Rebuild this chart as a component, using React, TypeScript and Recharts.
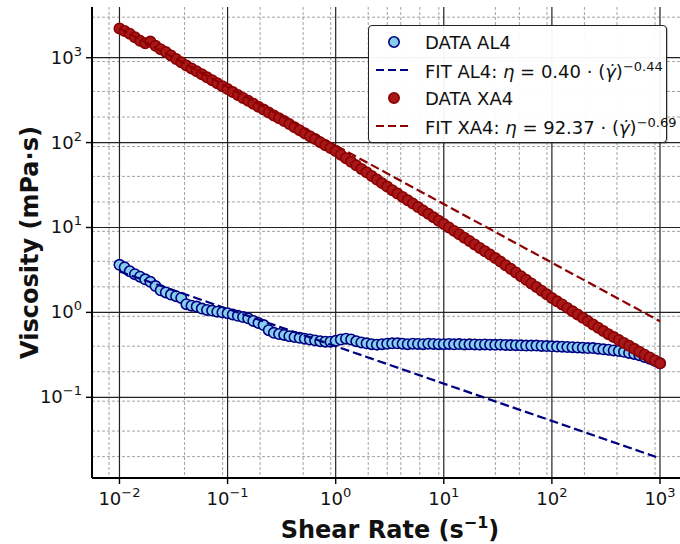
import React from 'react';
import { ScatterChart, Scatter, XAxis, YAxis, CartesianGrid } from 'recharts';

// shear rate (1/s), shared by both samples
const shearRate = [
  0.01, 0.01116, 0.01245, 0.0139, 0.01551, 0.0173, 0.01931, 0.02154, 0.02404, 0.02683, 0.02994, 0.0334, 0.03728, 0.0416, 0.04642, 0.05179, 0.0578, 0.06449, 0.07197, 0.08031, 0.08962,
  0.1, 0.1116, 0.1245, 0.139, 0.1551, 0.173, 0.1931, 0.2154, 0.2404, 0.2683, 0.2994, 0.334, 0.3728, 0.416, 0.4642, 0.5179, 0.578, 0.6449, 0.7197, 0.8031, 0.8962,
  1, 1.116, 1.245, 1.39, 1.551, 1.73, 1.931, 2.154, 2.404, 2.683, 2.994, 3.34, 3.728, 4.16, 4.642, 5.179, 5.78, 6.449, 7.197, 8.031, 8.962,
  10, 11.16, 12.45, 13.9, 15.51, 17.3, 19.31, 21.54, 24.04, 26.83, 29.94, 33.4, 37.28, 41.6, 46.42, 51.79, 57.8, 64.49, 71.97, 80.31, 89.62,
  100, 111.6, 124.5, 139, 155.1, 173, 193.1, 215.4, 240.4, 268.3, 299.4, 334, 372.8, 416, 464.2, 517.9, 578, 644.9, 719.7, 803.1, 896.2,
  1000,
];

// viscosity (mPa·s)
const viscosityAL4 = [
  3.63, 3.39, 3.05, 2.82, 2.63, 2.45, 2.29, 2.04, 1.82, 1.72, 1.62, 1.55, 1.48, 1.25, 1.2, 1.17, 1.11, 1.07, 1.05, 1.02, 1.0,
  0.977, 0.944, 0.912, 0.881, 0.851, 0.794, 0.75, 0.708, 0.617, 0.575, 0.556, 0.543, 0.525, 0.513, 0.501, 0.49, 0.479, 0.468, 0.457, 0.452, 0.452,
  0.462, 0.479, 0.49, 0.479, 0.457, 0.442, 0.432, 0.422, 0.417, 0.422, 0.427, 0.432, 0.432, 0.427, 0.422, 0.427, 0.425, 0.422, 0.427, 0.425, 0.422,
  0.422, 0.425, 0.421, 0.423, 0.419, 0.421, 0.419, 0.417, 0.419, 0.417, 0.415, 0.417, 0.414, 0.412, 0.411, 0.409, 0.407, 0.407, 0.406, 0.403, 0.401,
  0.398, 0.396, 0.394, 0.391, 0.389, 0.386, 0.384, 0.38, 0.38, 0.373, 0.367, 0.363, 0.356, 0.351, 0.343, 0.333, 0.324, 0.313, 0.299, 0.285, 0.269,
  0.251,
];

const viscosityXA4 = [
  2213, 2061, 1919, 1742, 1578, 1479, 1549, 1380, 1259, 1164, 1062, 968, 883, 811, 748, 690, 637, 587, 543, 501, 462,
  427, 394, 364, 336, 311, 287, 265, 245, 226, 209, 194, 179, 165, 152, 140, 129, 119, 110, 101, 93.3, 86.1,
  79.4, 72.1, 65.5, 59.4, 53.9, 49.0, 44.6, 40.5, 36.7, 33.3, 30.3, 27.5, 25.1, 22.9, 20.9, 19.1, 17.4, 15.8, 14.5, 13.2, 12.0,
  11.0, 10.0, 9.12, 8.32, 7.59, 6.92, 6.31, 5.75, 5.25, 4.79, 4.37, 3.97, 3.6, 3.26, 2.95, 2.67, 2.42, 2.19, 1.99, 1.8, 1.63,
  1.48, 1.35, 1.24, 1.13, 1.03, 0.944, 0.863, 0.789, 0.721, 0.659, 0.603, 0.553, 0.512, 0.472, 0.437, 0.404, 0.372, 0.344, 0.318, 0.294, 0.272,
  0.251,
];

// power-law fits, end points
const fitShearRate = [0.01, 1000];
const fitAL4 = [3.03, 0.0191];
const fitXA4 = [2216, 0.786];

const xTicks = [0.01, 0.1, 1, 10, 100, 1000];
const yTicks = [0.1, 1, 10, 100, 1000];
const decades = [0.001, 0.01, 0.1, 1, 10, 100, 1000];
const xDomain = [0.00557, 1816];
const yDomain = [0.0112, 3954];

const minorIn = (dom: number[]) =>
  decades
    .flatMap((d) => [2, 3, 4, 5, 6, 7, 8, 9].map((m) => m * d))
    .filter((v) => v > dom[0] && v < dom[1]);

const toPoints = (xs: number[], ys: number[]) => xs.map((x, i) => ({ x, y: ys[i] }));

const dataAL4 = toPoints(shearRate, viscosityAL4);
const dataXA4 = toPoints(shearRate, viscosityXA4);
const lineAL4 = toPoints(fitShearRate, fitAL4);
const lineXA4 = toPoints(fitShearRate, fitXA4);

const FONT = '"DejaVu Sans", sans-serif';
const BLUE_FILL = '#87ceeb';
const BLUE_EDGE = '#000080';
const RED_FILL = '#a81818';
const RED_EDGE = '#8b0000';

const sup = (v: number) => {
  const e = Math.round(Math.log10(v));
  return e < 0 ? `\u2212${-e}` : `${e}`;
};

const XTick = ({ x, y, payload }: any) => (
  <text x={x} y={y + 19} textAnchor="middle" fontFamily={FONT} fontSize={18} fill="#111">
    10<tspan dy={-8} fontSize={13}>{sup(payload.value)}</tspan>
  </text>
);

const YTick = ({ x, y, payload }: any) => (
  <text x={x} y={y + 6} textAnchor="end" fontFamily={FONT} fontSize={18} fill="#111">
    10<tspan dy={-8} fontSize={13}>{sup(payload.value)}</tspan>
  </text>
);

const XTitle = ({ viewBox }: any) => (
  <text x={viewBox.x + viewBox.width / 2} y={viewBox.y + 60} textAnchor="middle" fontFamily={FONT} fontSize={24} fontWeight="bold" fill="#111">
    Shear Rate (s<tspan dy={-10} fontSize={16}>{'\u22121'}</tspan><tspan dy={10}>)</tspan>
  </text>
);

const YTitle = ({ viewBox }: any) => {
  const cx = 38;
  const cy = viewBox.y + viewBox.height / 2;
  return (
    <text x={cx} y={cy} transform={`rotate(-90 ${cx} ${cy})`} textAnchor="middle" fontFamily={FONT} fontSize={24} fontWeight="bold" fill="#111">
      Viscosity (mPa·s)
    </text>
  );
};

const dot = (fill: string, stroke: string) => (p: any) =>
  <circle cx={p.cx} cy={p.cy} r={5.2} fill={fill} stroke={stroke} strokeWidth={1.6} />;

const noDot = () => <g />;

const legendRows = [
  { kind: 'dot', fill: BLUE_FILL, stroke: BLUE_EDGE, label: <>DATA AL4</> },
  { kind: 'dash', stroke: BLUE_EDGE, label: <>FIT AL4: <i>η</i> = 0.40 · (<i>γ̇</i>)<sup style={{ fontSize: 13 }}>−0.44</sup></> },
  { kind: 'dot', fill: RED_FILL, stroke: RED_EDGE, label: <>DATA XA4</> },
  { kind: 'dash', stroke: RED_EDGE, label: <>FIT XA4: <i>η</i> = 92.37 · (<i>γ̇</i>)<sup style={{ fontSize: 13 }}>−0.69</sup></> },
];

function ChartLegend() {
  return (
    <div
      style={{
        position: 'absolute', left: 368, top: 25, width: 297, height: 116,
        border: '1px solid #222', borderRadius: 4, background: 'rgba(255,255,255,0.95)',
        boxShadow: '1px 1px 1px rgba(0,0,0,0.25)',
        fontFamily: FONT, fontSize: 18, color: '#111',
      }}
    >
      {legendRows.map((r, i) => (
        <div key={i} style={{ position: 'absolute', left: 0, top: 2 + i * 28, height: 28, display: 'flex', alignItems: 'center', whiteSpace: 'nowrap' }}>
          <svg width={52} height={28} style={{ flex: 'none' }}>
            {r.kind === 'dot' ? (
              <circle cx={25} cy={14} r={5.2} fill={r.fill} stroke={r.stroke} strokeWidth={1.6} />
            ) : (
              <line x1={7} y1={14} x2={42} y2={14} stroke={r.stroke} strokeWidth={2.2} strokeDasharray="8 4" />
            )}
          </svg>
          <span style={{ marginLeft: 4 }}>{r.label}</span>
        </div>
      ))}
    </div>
  );
}

export default function App() {
  return (
    <div style={{ position: 'absolute', left: 0, top: 0, width: 680, height: 544, overflow: 'hidden', background: '#fff' }}>
      <ScatterChart width={700} height={544} margin={{ top: 7, right: 12, bottom: 0, left: 0 }}>
        <CartesianGrid
          horizontalValues={minorIn(yDomain)}
          verticalValues={minorIn(xDomain)}
          stroke="#8c8c8c"
          strokeWidth={0.8}
          strokeDasharray="3 2"
        />
        <CartesianGrid horizontalValues={yTicks} verticalValues={xTicks} stroke="#222" strokeWidth={1.2} />
        <XAxis
          type="number"
          dataKey="x"
          scale="log"
          domain={xDomain}
          allowDataOverflow
          ticks={xTicks}
          height={66}
          tick={<XTick />}
          tickSize={6}
          tickMargin={2}
          tickLine={{ stroke: '#000', strokeWidth: 1.4 }}
          axisLine={{ stroke: '#000', strokeWidth: 2 }}
          label={<XTitle />}
        />
        <XAxis xAxisId="top" orientation="top" type="number" height={0} tick={false} tickLine={false} axisLine={{ stroke: '#000', strokeWidth: 2 }} />
        <YAxis
          type="number"
          dataKey="y"
          scale="log"
          domain={yDomain}
          allowDataOverflow
          ticks={yTicks}
          width={92}
          tick={<YTick />}
          tickSize={6}
          tickMargin={4}
          tickLine={{ stroke: '#000', strokeWidth: 1.4 }}
          axisLine={{ stroke: '#000', strokeWidth: 2 }}
          label={<YTitle />}
        />
        <YAxis yAxisId="right" orientation="right" type="number" width={0} tick={false} tickLine={false} axisLine={{ stroke: '#000', strokeWidth: 2 }} />
        <Scatter data={dataAL4} shape={dot(BLUE_FILL, BLUE_EDGE)} isAnimationActive={false} />
        <Scatter
          data={lineAL4}
          shape={noDot}
          line={{ stroke: BLUE_EDGE, strokeWidth: 2.2, strokeDasharray: '9 4' }}
          isAnimationActive={false}
        />
        <Scatter data={dataXA4} shape={dot(RED_FILL, RED_EDGE)} isAnimationActive={false} />
        <Scatter
          data={lineXA4}
          shape={noDot}
          line={{ stroke: RED_EDGE, strokeWidth: 2.2, strokeDasharray: '9 4' }}
          isAnimationActive={false}
        />
      </ScatterChart>
      <ChartLegend />
    </div>
  );
}
